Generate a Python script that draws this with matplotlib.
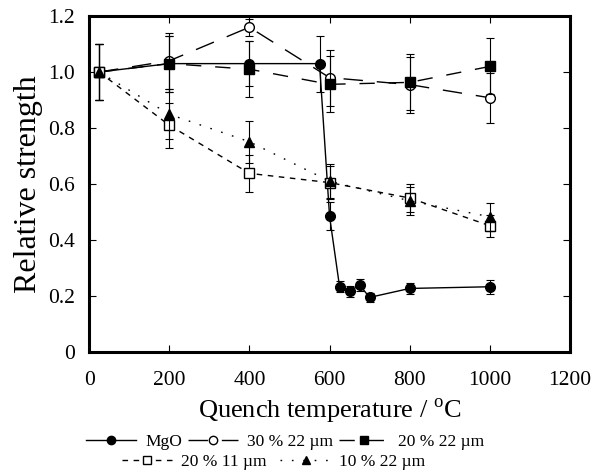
import matplotlib
matplotlib.use("Agg")
import matplotlib.pyplot as plt
from matplotlib.lines import Line2D

plt.rcParams['font.family'] = ['Liberation Serif', 'DejaVu Serif']
plt.rcParams['mathtext.fontset'] = 'custom'
plt.rcParams['mathtext.rm'] = 'Liberation Serif'

# Data
mgo_x = [25, 200, 400, 575, 600, 625, 650, 675, 700, 800, 1000]
mgo_y = [1.00, 1.03, 1.03, 1.03, 0.485, 0.233, 0.217, 0.239, 0.195, 0.227, 0.233]
mgo_e = [0.10, 0.10, 0.08, 0.10, 0.05, 0.02, 0.02, 0.02, 0.015, 0.02, 0.025]

t_x = [25, 200, 400, 600, 800, 1000]
c30_y = [1.00, 1.04, 1.16, 0.98, 0.955, 0.908]
c30_e = [0.10, 0.10, 0.03, 0.10, 0.10, 0.09]
s22_y = [1.00, 1.03, 1.01, 0.956, 0.963, 1.02]
s22_e = [0.10, 0.10, 0.10, 0.10, 0.10, 0.10]
s11_y = [1.00, 0.81, 0.638, 0.605, 0.55, 0.451]
s11_e = [0.10, 0.08, 0.065, 0.06, 0.05, 0.04]
t10_y = [1.00, 0.849, 0.751, 0.61, 0.54, 0.483]
t10_e = [0.10, 0.09, 0.075, 0.06, 0.05, 0.05]

labels = ['MgO', '30 % 22 \u00b5m', '20 % 22 \u00b5m', '20 % 11 \u00b5m', '10 % 22 \u00b5m']
xticks = [0, 200, 400, 600, 800, 1000, 1200]
yticks = [0, 0.2, 0.4, 0.6, 0.8, 1.0, 1.2]
ytick_labels = ['0', '0.2', '0.4', '0.6', '0.8', '1.0', '1.2']

fig = plt.figure(figsize=(5.94, 4.74), dpi=100)
ax = fig.add_axes([0.150, 0.2574, 0.8096, 0.7088])

styles = [
    dict(marker='o', ls='-', mfc='black', ms=7),
    dict(marker='o', ls=(0, (14, 10)), mfc='white', ms=7),
    dict(marker='s', ls=(0, (11, 10)), mfc='black', ms=7),
    dict(marker='s', ls=(0, (4, 4)), mfc='white', ms=7),
    dict(marker='^', ls=(0, (1.2, 7)), mfc='black', ms=7.5),
]
xs = [mgo_x, t_x, t_x, t_x, t_x]
ys = [mgo_y, c30_y, s22_y, s11_y, t10_y]
es = [mgo_e, c30_e, s22_e, s11_e, t10_e]

for x, y, e, st in zip(xs, ys, es, styles):
    ax.errorbar(x, y, yerr=e, fmt='none', ecolor='black', elinewidth=0.8,
                capsize=3, capthick=0.8)
    ax.plot(x, y, color='black', lw=1.0, ls=st['ls'], marker=st['marker'],
            ms=st['ms'], mfc=st['mfc'], mec='black', mew=1.0)

ax.set_xlim(0, 1200)
ax.set_ylim(0, 1.2)
ax.set_xticks(xticks)
ax.set_yticks(yticks)
ax.set_yticklabels(ytick_labels)
ax.tick_params(direction='in', top=True, right=True, length=5, width=0.8, labelsize=15.5)
ax.tick_params(axis='x', pad=14)
ax.tick_params(axis='y', pad=10)
for s in ax.spines.values():
    s.set_linewidth(2.2)

ax.set_xlabel('Quench temperature / $^{\\rm o}$C', fontsize=19, labelpad=5)
ax.set_ylabel('Relative strength', fontsize=23, labelpad=4)

handles = [Line2D([], [], color='black', lw=1.0, ls=st['ls'], marker=st['marker'],
                  ms=6, mfc=st['mfc'], mec='black') for st in styles]
fig.legend(handles[:3], labels[:3], loc='center', bbox_to_anchor=(0.48, 0.0675),
           ncol=3, frameon=False, fontsize=12.5, handlelength=2.9, columnspacing=0.35,
           handletextpad=0.5, borderpad=0, borderaxespad=0)
fig.legend(handles[3:], labels[3:], loc='center', bbox_to_anchor=(0.461, 0.025),
           ncol=2, frameon=False, fontsize=12.5, handlelength=2.9, columnspacing=0.8,
           handletextpad=0.5, borderpad=0, borderaxespad=0)

fig.savefig('out.png', dpi=100)
